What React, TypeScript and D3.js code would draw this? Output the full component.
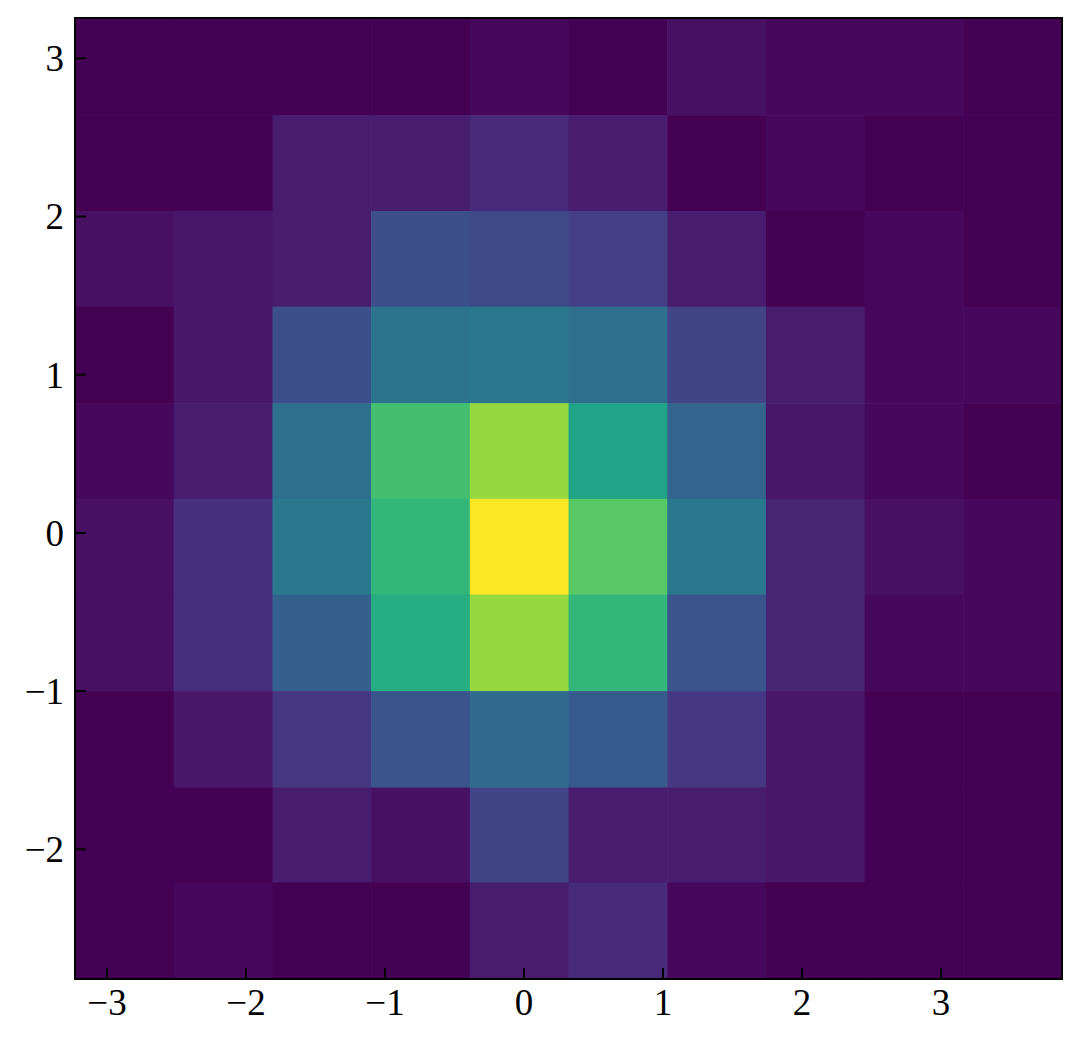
import React from "react";
import * as d3 from "d3";

// Bin edges
const xEdges = [-3.23, -2.52, -1.81, -1.1, -0.39, 0.32, 1.03, 1.74, 2.45, 3.16, 3.87];
const yEdges = [-2.82, -2.21, -1.61, -1.0, -0.39, 0.215, 0.82, 1.43, 2.035, 2.64, 3.255];

// Counts per cell, rows listed from top (highest y) to bottom
const countsTopToBottom: number[][] = [
  [0, 0, 0, 0, 1, 0, 2, 1, 1, 0],
  [0, 0, 4, 4, 6, 4, 0, 1, 0, 0],
  [2, 3, 4, 12, 11, 9, 4, 0, 1, 0],
  [0, 3, 12, 19, 20, 18, 10, 4, 1, 1],
  [1, 4, 18, 35, 42, 29, 16, 3, 1, 0],
  [2, 7, 20, 33, 50, 37, 20, 5, 2, 1],
  [2, 7, 15, 31, 42, 33, 13, 5, 1, 1],
  [0, 3, 8, 13, 17, 14, 8, 3, 0, 0],
  [0, 0, 4, 2, 10, 4, 4, 3, 0, 0],
  [0, 1, 0, 0, 4, 6, 1, 0, 0, 0],
];

const xTicks = [-3, -2, -1, 0, 1, 2, 3];
const yTicks = [-2, -1, 0, 1, 2, 3];

const W = 1080;
const H = 1040;
const L = 75, R = 1062, T = 18, B = 979;

const fmt = (v: number) => (v < 0 ? "\u2212" + Math.abs(v) : String(v));

export default function App() {
  const x = d3.scaleLinear().domain([xEdges[0], xEdges[xEdges.length - 1]]).range([L, R]);
  const y = d3.scaleLinear().domain([yEdges[0], yEdges[yEdges.length - 1]]).range([B, T]);
  const maxC = d3.max(countsTopToBottom.flat()) as number;
  const color = d3.scaleSequential(d3.interpolateViridis).domain([0, maxC]);
  const nRows = countsTopToBottom.length;

  const cells: React.ReactNode[] = [];
  countsTopToBottom.forEach((row, ri) => {
    const yi = nRows - 1 - ri;
    row.forEach((c, xi) => {
      const x0 = x(xEdges[xi]);
      const x1 = x(xEdges[xi + 1]);
      const yTop = y(yEdges[yi + 1]);
      const yBot = y(yEdges[yi]);
      cells.push(
        <rect
          key={`${ri}-${xi}`}
          x={x0}
          y={yTop}
          width={x1 - x0 + 0.6}
          height={yBot - yTop + 0.6}
          fill={color(c)}
        />
      );
    });
  });

  const font = "'Liberation Serif', 'DejaVu Serif', serif";
  const fs = 37;

  return (
    <svg
      width={W}
      height={H}
      style={{ position: "absolute", left: 0, top: 0, background: "#fff" }}
    >
      <rect x={0} y={0} width={W} height={H} fill="#fff" />
      <g>{cells}</g>
      {xTicks.map((t) => (
        <g key={`xt${t}`}>
          <line x1={x(t)} x2={x(t)} y1={B} y2={B - 11} stroke="#000" strokeWidth={2} />
          <text
            x={x(t)}
            y={B + 36}
            textAnchor="middle"
            fontFamily={font}
            fontSize={fs}
            fill="#000"
          >
            {fmt(t)}
          </text>
        </g>
      ))}
      {yTicks.map((t) => (
        <g key={`yt${t}`}>
          <line x1={L} x2={L + 11} y1={y(t)} y2={y(t)} stroke="#000" strokeWidth={2} />
          <text
            x={L - 11}
            y={y(t)}
            dy="0.35em"
            textAnchor="end"
            fontFamily={font}
            fontSize={fs}
            fill="#000"
          >
            {fmt(t)}
          </text>
        </g>
      ))}
      <rect x={L} y={T} width={R - L} height={B - T} fill="none" stroke="#000" strokeWidth={2} />
    </svg>
  );
}
